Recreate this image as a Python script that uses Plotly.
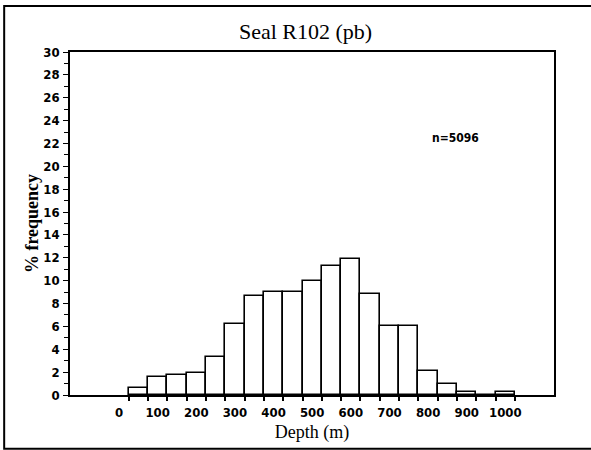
import plotly.graph_objects as go

# Data: % frequency per 50 m depth bin (bin centres)
depth_bins = [50, 100, 150, 200, 250, 300, 350, 400, 450, 500,
              550, 600, 650, 700, 750, 800, 850, 900, 950, 1000]
pct_freq = [0.6, 1.6, 1.75, 1.95, 3.3, 6.2, 8.65, 9.05, 9.0, 9.95,
            11.25, 11.9, 8.8, 6.0, 6.0, 2.1, 0.95, 0.3, 0.0, 0.3]
x_tick_vals = [0, 100, 200, 300, 400, 500, 600, 700, 800, 900, 1000]
x_tick_text = [str(v) for v in x_tick_vals]
bin_edges = [25 + 50 * i for i in range(21)]
y_tick_vals = list(range(0, 31, 2))

tick_font = dict(family="DejaVu Sans Condensed, Liberation Sans Narrow, DejaVu Sans",
                 size=13, color="black", weight="bold")
serif = "Liberation Serif, DejaVu Serif, serif"

fig = go.Figure()
fig.add_trace(go.Bar(
    x=depth_bins, y=pct_freq, width=50,
    marker=dict(color="white", line=dict(color="black", width=1.6)),
    hoverinfo="x+y",
))

fig.update_layout(
    width=591, height=450,
    margin=dict(l=70, r=37, t=52, b=55),
    paper_bgcolor="white", plot_bgcolor="white",
    showlegend=False,
    bargap=0,
    title=dict(text="Seal R102 (pb)", x=0.517, xanchor="center", y=0.93, yanchor="middle",
               font=dict(family=serif, size=22, color="black")),
    xaxis=dict(
        range=[-127, 1126],
        tickmode="array", tickvals=x_tick_vals, ticktext=x_tick_text,
        ticks="", tickfont=tick_font, ticklabelstandoff=5,
        showgrid=False, zeroline=False,
        showline=True, linecolor="black", linewidth=1.6, mirror=True,
        minor=dict(tickmode="array", tickvals=bin_edges, ticks="outside",
                   ticklen=4, tickwidth=1.5, tickcolor="black", showgrid=False),
        title=dict(text="Depth (m)", font=dict(family=serif, size=18, color="black"), standoff=6),
    ),
    yaxis=dict(
        range=[0, 30],
        tickmode="array", tickvals=y_tick_vals,
        ticks="outside", ticklen=5, tickwidth=1.3, tickcolor="black",
        tickfont=tick_font, ticklabelstandoff=1,
        showgrid=False, zeroline=False,
        showline=True, linecolor="black", linewidth=1.6, mirror=True,
        minor=dict(dtick=1, ticks="outside", ticklen=4, tickwidth=1.2,
                   tickcolor="black", showgrid=False),
        title=dict(text="% frequency", font=dict(family=serif, size=18, color="black", weight="bold"), standoff=0),
    ),
    annotations=[dict(text="n=5096", xref="paper", yref="paper", x=0.797, y=0.749,
                      showarrow=False, xanchor="center", yanchor="middle",
                      font=dict(family="DejaVu Sans Condensed, DejaVu Sans", size=12,
                                color="black", weight="bold"))],
    shapes=[dict(type="rect", xref="paper", yref="paper",
                 x0=-0.136, x1=1.25, y0=-0.157, y1=1.134,
                 line=dict(color="black", width=2), layer="below")],
)

fig.write_html("out.html")
